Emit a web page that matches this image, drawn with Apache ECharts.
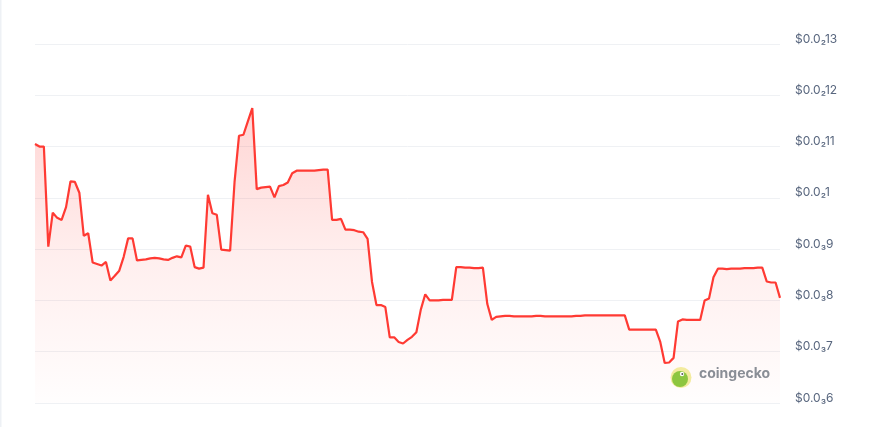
<!DOCTYPE html>
<html>
<head>
<meta charset="utf-8">
<script src="https://cdn.jsdelivr.net/npm/echarts@6/dist/echarts.min.js"></script>
<style>
html,body{margin:0;padding:0;background:#fff;}
#chart{width:869px;height:427px;}
</style>
</head>
<body>
<div id="chart"></div>
<script>
// Hourly price samples (USD), 7 days
const prices = [
0.001105,0.001100,0.001100,0.000905,0.000971,0.000961,0.000957,0.000982,0.001032,0.001031,
0.001010,0.000926,0.000931,0.000874,0.000871,0.000868,0.000875,0.000839,0.000848,0.000858,
0.000885,0.000921,0.000921,0.000878,0.000879,0.000880,0.000882,0.000883,0.000882,0.000880,
0.000879,0.000883,0.000886,0.000884,0.000907,0.000905,0.000865,0.000862,0.000864,0.001006,
0.000970,0.000967,0.000899,0.000898,0.000897,0.001031,0.001121,0.001123,0.001149,0.001175,
0.001017,0.001020,0.001021,0.001022,0.001001,0.001023,0.001025,0.001030,0.001048,0.001053,
0.001053,0.001053,0.001053,0.001053,0.001054,0.001055,0.001055,0.000957,0.000957,0.000959,
0.000938,0.000938,0.000937,0.000934,0.000933,0.000920,0.000836,0.000791,0.000791,0.000787,
0.000728,0.000728,0.000719,0.000716,0.000723,0.000729,0.000738,0.000782,0.000812,0.000800,
0.000800,0.000800,0.000801,0.000801,0.000801,0.000865,0.000865,0.000864,0.000864,0.000863,
0.000863,0.000864,0.000793,0.000762,0.000768,0.000769,0.000770,0.000770,0.000769,0.000769,
0.000769,0.000769,0.000769,0.000770,0.000770,0.000769,0.000769,0.000769,0.000769,0.000769,
0.000769,0.000769,0.000770,0.000770,0.000771,0.000771,0.000771,0.000771,0.000771,0.000771,
0.000771,0.000771,0.000771,0.000771,0.000743,0.000743,0.000743,0.000743,0.000743,0.000743,
0.000743,0.000719,0.000678,0.000679,0.000688,0.000759,0.000763,0.000762,0.000762,0.000762,
0.000762,0.000800,0.000804,0.000845,0.000862,0.000862,0.000861,0.000862,0.000862,0.000862,
0.000863,0.000863,0.000863,0.000864,0.000864,0.000837,0.000835,0.000835,0.000805
];
const hours = prices.map((_, i) => String(i));
const axisMin = 0.0006, axisMax = 0.0013, axisStep = 0.0001;

const SUB = '₀₁₂₃₄₅₆₇₈₉';
function fmtPrice(v) {
  let s = Number(v.toPrecision(2)).toString();
  if (s.indexOf('e') >= 0) s = Number(v).toFixed(8);
  s = s.replace(/0+$/, '');
  const frac = s.split('.')[1] || '';
  const m = frac.match(/^0*/)[0].length;
  const rest = frac.slice(m);
  return '$0.0' + String(m).split('').map(d => SUB[+d]).join('') + rest;
}

const chart = echarts.init(document.getElementById('chart'));
chart.setOption({
  animation: false,
  backgroundColor: '#ffffff',
  grid: { left: 35, right: 89, top: 44, bottom: 24 },
  xAxis: {
    type: 'category',
    data: hours,
    boundaryGap: false,
    axisLine: { show: false },
    axisTick: { show: false },
    axisLabel: { show: false },
    splitLine: { show: false }
  },
  yAxis: {
    type: 'value',
    position: 'right',
    min: axisMin,
    max: axisMax,
    interval: axisStep,
    axisLine: { show: false },
    axisTick: { show: false },
    splitLine: { lineStyle: { color: '#eff1f4', width: 1 } },
    axisLabel: {
      margin: 15,
      color: '#58667e',
      fontFamily: 'Inter, "Liberation Sans", sans-serif',
      fontSize: 12,
      verticalAlign: 'bottom',
      lineHeight: 10,
      formatter: fmtPrice
    }
  },
  series: [{
    type: 'line',
    data: prices,
    symbol: 'none',
    lineStyle: { color: '#ff3a33', width: 2.2 },
    areaStyle: {
      color: new echarts.graphic.LinearGradient(0, 0, 0, 1, [
        { offset: 0, color: 'rgba(255,58,51,0.30)' },
        { offset: 0.5, color: 'rgba(255,58,51,0.12)' },
        { offset: 1, color: 'rgba(255,58,51,0.01)' }
      ])
    },
    z: 3
  }],
  graphic: [
    { type: 'rect', left: 0, top: 0, shape: { width: 1.5, height: 427 }, style: { fill: '#eef1f5' } },
    { type: 'circle', shape: { cx: 681, cy: 377.5, r: 10.5 }, style: { fill: '#f3eb9e' }, z: 10 },
    { type: 'circle', shape: { cx: 680, cy: 379, r: 8 }, style: { fill: '#8dc63f' }, z: 11 },
    { type: 'circle', shape: { cx: 682, cy: 374, r: 2.2 }, style: { fill: '#ffffff' }, z: 12 },
    { type: 'circle', shape: { cx: 682.3, cy: 374, r: 1 }, style: { fill: '#5a5a5a' }, z: 13 },
    { type: 'text', left: 699, top: 367, z: 10,
      style: { text: 'coingecko', fill: '#8a8e96', font: 'bold 14px Inter, "Liberation Sans", sans-serif' } }
  ]
});
</script>
</body>
</html>
